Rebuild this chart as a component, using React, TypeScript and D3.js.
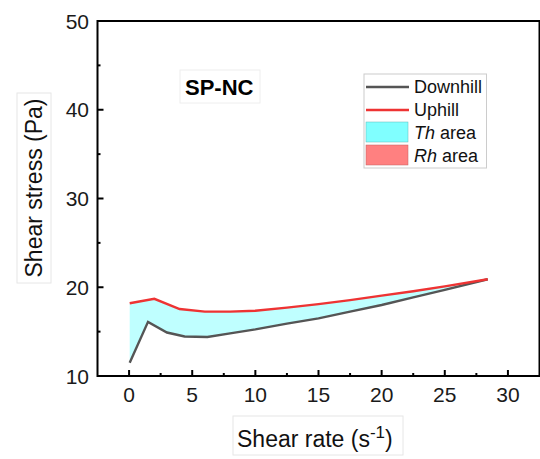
import React from "react";
import * as d3 from "d3";

const uphillX = [0.05, 2.0, 4.0, 6.0, 8.0, 10.0, 12.5, 15, 17.5, 20, 22.5, 25, 28.4];
const uphillY = [18.2, 18.7, 17.55, 17.25, 17.25, 17.35, 17.7, 18.1, 18.55, 19.05, 19.55, 20.1, 20.9];
const downhillX = [0.05, 1.5, 3.0, 4.4, 6.2, 8, 10, 12.5, 15, 17.5, 20, 22.5, 25, 28.4];
const downhillY = [11.5, 16.1, 14.9, 14.45, 14.4, 14.8, 15.25, 15.9, 16.5, 17.25, 18.0, 18.85, 19.7, 20.9];
const xTicks = [0, 5, 10, 15, 20, 25, 30];
const xMinor = [2.5, 7.5, 12.5, 17.5, 22.5, 27.5];
const yTicks = [10, 20, 30, 40, 50];
const yMinor = [15, 25, 35, 45];
const legendItems = ["Downhill", "Uphill", "Th area", "Rh area"];

const FONT = "'Liberation Sans', Arial, sans-serif";

export default function App() {
  const x = d3.scaleLinear().domain([-2.5, 32.5]).range([97.5, 539.5]);
  const y = d3.scaleLinear().domain([10, 50]).range([376, 21]);

  const up = uphillX.map((v, i) => [v, uphillY[i]] as [number, number]);
  const down = downhillX.map((v, i) => [v, downhillY[i]] as [number, number]);
  const line = d3.line<[number, number]>().x(d => x(d[0])).y(d => y(d[1]));
  const poly = [...up, ...down.slice().reverse()];
  const fillPath = line(poly) + "Z";

  const [x0, x1] = x.range();
  const [yb, yt] = y.range();

  return (
    <svg width={540} height={459} style={{ position: "absolute", left: 0, top: 0, background: "#fff" }} fontFamily={FONT}>
      <rect x={0} y={0} width={540} height={459} fill="#fff" />
      <path d={fillPath} fill="#80ffff" fillOpacity={0.5} stroke="none" />
      <path d={line(down) || ""} fill="none" stroke="#555" strokeWidth={2.4} />
      <path d={line(up) || ""} fill="none" stroke="#ee3333" strokeWidth={2.4} />

      {/* frame */}
      <rect x={x0} y={yt} width={x1 - x0} height={yb - yt} fill="none" stroke="#000" strokeWidth={2} />

      {/* x ticks */}
      {xTicks.map(t => (
        <g key={"xt" + t}>
          <line x1={x(t)} x2={x(t)} y1={yb} y2={yb - 6} stroke="#000" strokeWidth={2} />
          <text x={x(t)} y={402} fontSize={21} textAnchor="middle" fill="#1a1a1a">{t}</text>
        </g>
      ))}
      {xMinor.map(t => (
        <line key={"xm" + t} x1={x(t)} x2={x(t)} y1={yb} y2={yb - 3} stroke="#000" strokeWidth={2} />
      ))}
      {/* y ticks */}
      {yTicks.map(t => (
        <g key={"yt" + t}>
          <line x1={x0} x2={x0 + 6} y1={y(t)} y2={y(t)} stroke="#000" strokeWidth={2} />
          <text x={89} y={y(t)} dy="0.36em" fontSize={21} textAnchor="end" fill="#1a1a1a">{t}</text>
        </g>
      ))}
      {yMinor.map(t => (
        <line key={"ym" + t} x1={x0} x2={x0 + 3} y1={y(t)} y2={y(t)} stroke="#000" strokeWidth={2} />
      ))}

      {/* x title */}
      <rect x={233} y={416} width={170} height={39} fill="#fff" stroke="#e6e6e6" strokeWidth={1} />
      <text x={237} y={447} fontSize={23} fill="#111">
        Shear rate (s<tspan dy={-9} fontSize={17}>-1</tspan><tspan dy={9}>)</tspan>
      </text>

      {/* y title */}
      <rect x={17} y={93} width={34} height={190} fill="#fff" stroke="#e6e6e6" strokeWidth={1} />
      <text transform="translate(42,188) rotate(-90)" fontSize={23} textAnchor="middle" fill="#111">Shear stress (Pa)</text>

      {/* SP-NC label */}
      <rect x={180} y={70} width={80} height={33} fill="#fff" stroke="#eeeeee" strokeWidth={1} />
      <text x={185} y={95} fontSize={22} fontWeight="bold" fill="#000">SP-NC</text>

      {/* legend */}
      <rect x={364} y={74} width={122.5} height={94} fill="#fff" stroke="#cccccc" strokeWidth={1} />
      <line x1={366} x2={409} y1={87} y2={87} stroke="#555" strokeWidth={2.4} />
      <line x1={366} x2={409} y1={110} y2={110} stroke="#ee3333" strokeWidth={2.4} />
      <rect x={366} y={122} width={42} height={20} fill="#80ffff" stroke="#5cb8b8" strokeWidth={0.5} />
      <rect x={366} y={145} width={42} height={20} fill="#ff8080" stroke="#c06060" strokeWidth={0.5} />
      <text x={414} y={93} fontSize={18} fill="#111">{legendItems[0]}</text>
      <text x={414} y={116} fontSize={18} fill="#111">{legendItems[1]}</text>
      <text x={414} y={139} fontSize={18} fill="#111"><tspan fontStyle="italic">{legendItems[2].split(" ")[0]}</tspan> {legendItems[2].split(" ")[1]}</text>
      <text x={414} y={162} fontSize={18} fill="#111"><tspan fontStyle="italic">{legendItems[3].split(" ")[0]}</tspan> {legendItems[3].split(" ")[1]}</text>
    </svg>
  );
}
